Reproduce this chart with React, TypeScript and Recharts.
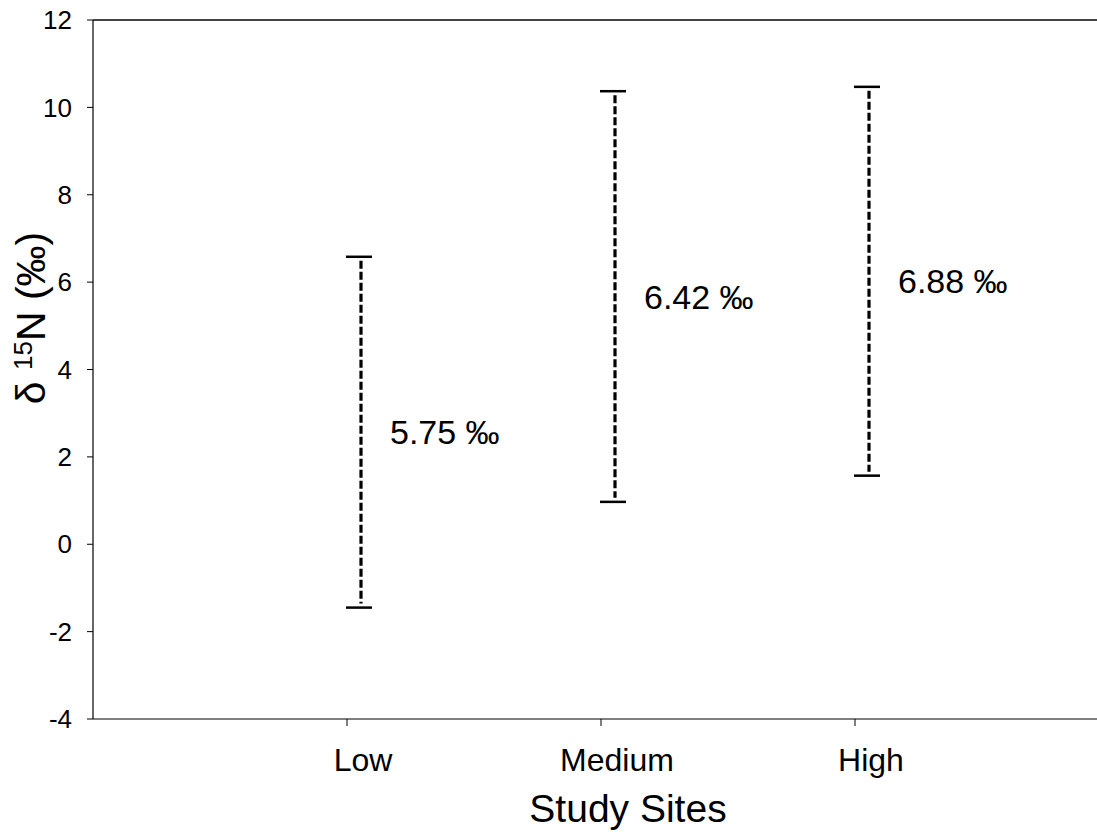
import React from 'react';
import { ComposedChart, Bar, XAxis, YAxis } from 'recharts';

const sites = ['Low', 'Medium', 'High'];
const lowValues = [-1.45, 0.97, 1.57];
const highValues = [6.58, 10.37, 10.47];
const meanValues = [5.75, 6.42, 6.88];
const yTicks = [-4, -2, 0, 2, 4, 6, 8, 10, 12];

const data = sites.map((site, i) => ({
  site,
  range: [lowValues[i], highValues[i]],
  mean: meanValues[i],
}));

const FONT = '"Liberation Sans", Arial, sans-serif';

const RangeShape = (props: any) => {
  const { x, y, width, height, payload } = props;
  if (x == null || y == null) return null;
  const cx = x + width / 2;
  const top = Math.min(y, y + height);
  const bottom = Math.max(y, y + height);
  const lx = cx + 14;
  return (
    <g>
      <line x1={cx - 1} x2={cx + 25} y1={top} y2={top} stroke="#000" strokeWidth={2.5} />
      <line x1={cx - 1} x2={cx + 25} y1={bottom} y2={bottom} stroke="#000" strokeWidth={2.5} />
      <line x1={lx} x2={lx} y1={top + 4} y2={bottom - 4} stroke="#000" strokeWidth={3.2} strokeDasharray="8 3" />
      <text
        x={lx + 29}
        y={(top + bottom) / 2}
        dominantBaseline="central"
        fontSize={34}
        fontFamily={FONT}
        fill="#000"
      >
        {`${payload.mean.toFixed(2)} ‰`}
      </text>
    </g>
  );
};

const YLabel = () => (
  <text
    transform="translate(45, 318) rotate(-90)"
    textAnchor="middle"
    fontFamily={FONT}
    fontSize={41}
    fill="#000"
  >
    <tspan>δ </tspan>
    <tspan fontSize={26} dy={-13}>15</tspan>
    <tspan dy={13}>N (‰)</tspan>
  </text>
);

export default function App() {
  return (
    <div style={{ position: 'absolute', left: 0, top: 0, width: 1097, height: 832, overflow: 'hidden', background: '#fff' }}>
      <ComposedChart
        width={1109}
        height={832}
        data={data}
        margin={{ top: 19, right: 0, left: 0, bottom: 0 }}
        style={{ fontFamily: FONT }}
      >
        <XAxis
          dataKey="site"
          padding={{ left: 127, right: 127 }}
          height={113}
          tickSize={7}
          tickMargin={22}
          interval={0}
          tick={{ fontSize: 32, fill: '#000', fontFamily: FONT, dx: 16 }}
          tickLine={{ stroke: '#000' }}
          axisLine={{ stroke: '#000', strokeWidth: 1.2 }}
          label={{ value: 'Study Sites', position: 'insideBottom', offset: 10, dx: 27, fontSize: 39, fill: '#000', fontFamily: FONT }}
        />
        <XAxis
          xAxisId="top"
          orientation="top"
          dataKey="site"
          padding={{ left: 127, right: 127 }}
          height={1}
          tick={false}
          tickLine={false}
          axisLine={{ stroke: '#444', strokeWidth: 2 }}
        />
        <YAxis
          type="number"
          domain={[-4, 12]}
          ticks={yTicks}
          width={93}
          tickSize={6}
          tickMargin={15}
          interval={0}
          tick={{ fontSize: 26, fill: '#000', fontFamily: FONT }}
          tickLine={{ stroke: '#000' }}
          axisLine={{ stroke: '#000', strokeWidth: 1.2 }}
          label={<YLabel />}
        />
        <Bar dataKey="range" barSize={26} shape={<RangeShape />} isAnimationActive={false} />
      </ComposedChart>
    </div>
  );
}
